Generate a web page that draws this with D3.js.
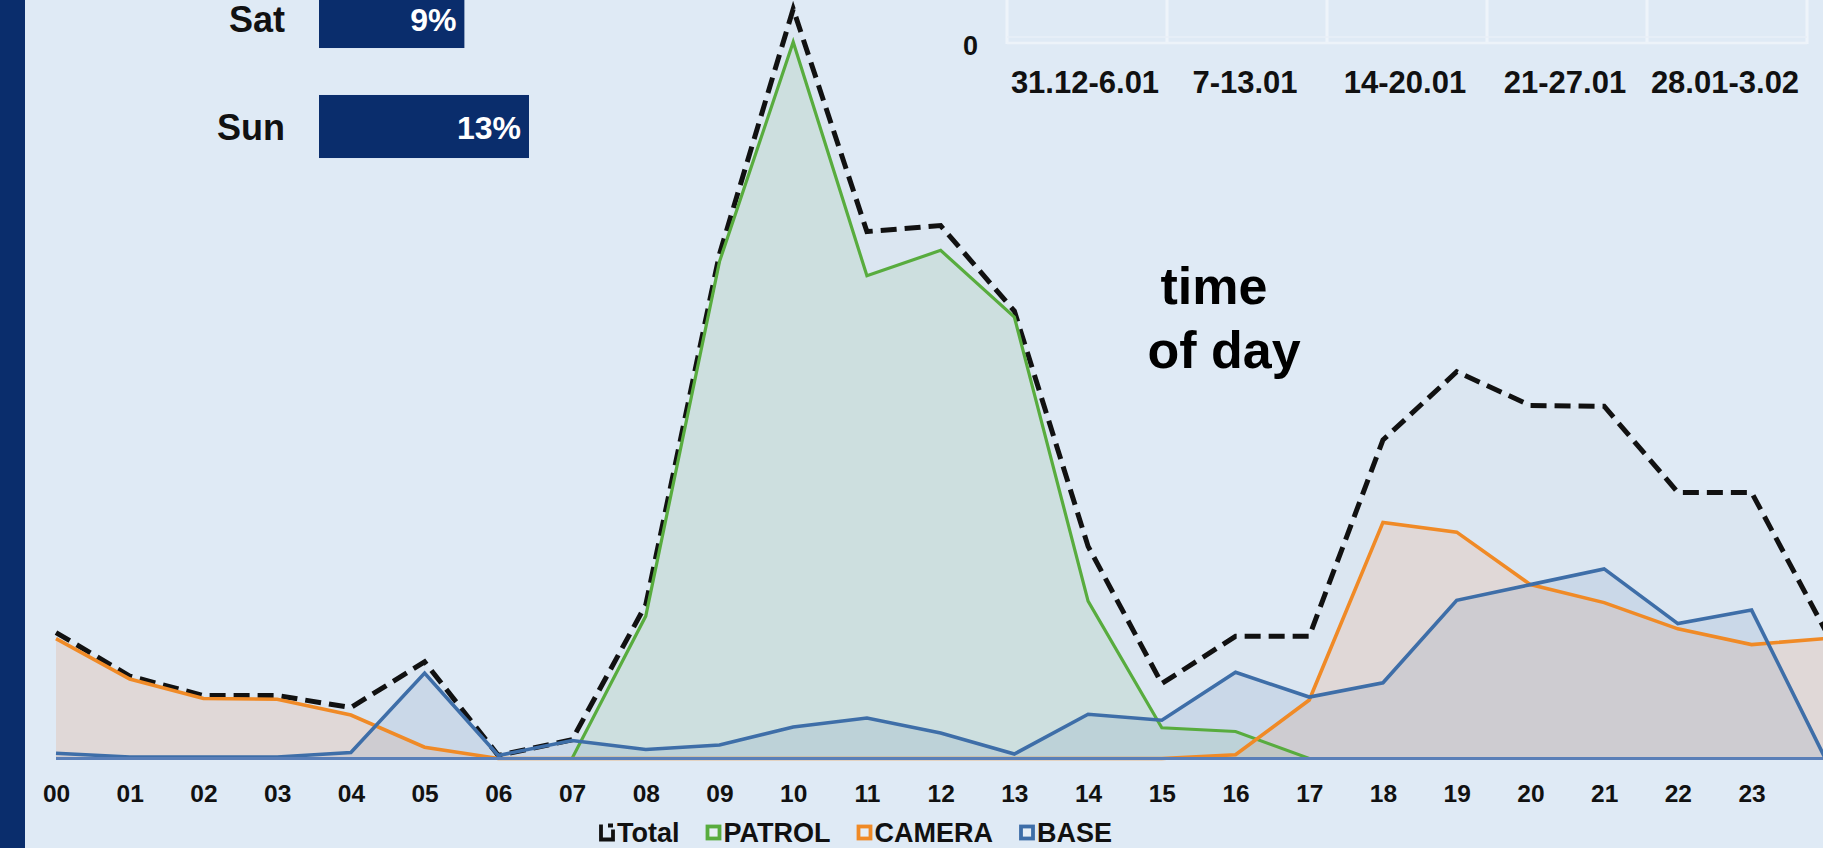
<!DOCTYPE html>
<html>
<head>
<meta charset="utf-8">
<script src="https://cdn.jsdelivr.net/npm/d3@7"></script>
<style>
  html, body { margin: 0; padding: 0; background: #dfeaf5; overflow: hidden; }
  svg { display: block; }
  text { font-family: "Liberation Sans", Arial, Helvetica, sans-serif; font-weight: bold; }
</style>
</head>
<body>
<svg id="chart" width="1823" height="848"></svg>
<script>
// ---- data ---------------------------------------------------------------
// hourly call volume (index 24 = midnight of the following day)
const hourTicks = ["00","01","02","03","04","05","06","07","08","09","10","11",
                   "12","13","14","15","16","17","18","19","20","21","22","23"];
const totalCalls  = [16.8, 11.0, 8.4, 8.4, 6.8, 12.9, 0.4, 2.5, 20.5, 67.3, 100, 70.3,
                     71.1, 59.7, 28.3, 10.0, 16.3, 16.3, 42.5, 51.6, 47.1, 47.0, 35.5, 35.5, 17.1];
const patrolCalls = [0, 0, 0, 0, 0, 0, 0, 0, 19.0, 66.3, 95.6, 64.4,
                     67.8, 58.9, 21.0, 4.1, 3.6, 0, 0, 0, 0, 0, 0, 0, 0];
const cameraCalls = [16.0, 10.6, 8.0, 7.9, 5.8, 1.5, 0, 0, 0, 0, 0, 0,
                     0, 0, 0, 0, 0.5, 7.8, 31.5, 30.2, 23.2, 20.8, 17.3, 15.2, 16.0];
const baseCalls   = [0.7, 0.2, 0.2, 0.2, 0.8, 11.4, 0.4, 2.4, 1.2, 1.8, 4.2, 5.4,
                     3.4, 0.6, 5.9, 5.1, 11.5, 8.2, 10.1, 21.1, 23.2, 25.3, 18.0, 19.8, 0];
const legendNames = ["Total", "PATROL", "CAMERA", "BASE"];

// share of calls by weekday (weekend rows)
const weekendDays  = ["Sat", "Sun"];
const weekendShare = [9, 13];

// weekly panel
const weekLabels = ["31.12-6.01", "7-13.01", "14-20.01", "21-27.01", "28.01-3.02"];
const weekTicks  = [0];

const titleLines = ["time", "of day"];

// ---- styling ------------------------------------------------------------
const navy = "#0a2d6c";
const colors = { Total: "#111111", PATROL: "#58ac3e", CAMERA: "#f08a26", BASE: "#3e6ea8" };
const fills  = { Total: "rgba(40,50,70,0.018)", PATROL: "rgba(95,170,80,0.11)",
                 CAMERA: "rgba(250,150,90,0.17)", BASE: "rgba(62,110,168,0.11)" };

const svg = d3.select("#chart");

// left accent strip
svg.append("rect").attr("x", 0).attr("y", 0).attr("width", 25).attr("height", 848).attr("fill", navy);

// ---- weekday bars -------------------------------------------------------
const dayY = d3.scaleBand().domain(weekendDays).range([-38.5, 181.5]).paddingInner(0.427).paddingOuter(0.2135);
const dayX = d3.scaleLinear().domain([0, d3.max(weekendShare)]).range([319, 529]);
const dayG = svg.append("g");
weekendDays.forEach((d, i) => {
  const yc = dayY(d) + dayY.bandwidth() / 2;
  const off = i === 0 ? 15 : 13;
  dayG.append("rect")
    .attr("x", dayX(0)).attr("y", dayY(d))
    .attr("width", dayX(weekendShare[i]) - dayX(0)).attr("height", dayY.bandwidth())
    .attr("fill", navy);
  dayG.append("text").attr("x", 285).attr("y", yc + off)
    .attr("text-anchor", "end").attr("font-size", 36).attr("fill", "#111").text(d);
  dayG.append("text").attr("x", dayX(weekendShare[i]) - 8).attr("y", yc + off - 1)
    .attr("text-anchor", "end").attr("font-size", 32).attr("fill", "#fff").text(weekendShare[i] + "%");
});

// ---- weekly panel (bottom edge) -----------------------------------------
const weekX = d3.scaleBand().domain(weekLabels).range([1007, 1807]);
const weekY = d3.scaleLinear().domain([0, 1]).range([43, -400]);
const weekG = svg.append("g");
weekG.selectAll("line.v").data(weekLabels.concat([null])).join("line")
  .attr("class", "v")
  .attr("x1", (d, i) => 1007 + i * weekX.step()).attr("x2", (d, i) => 1007 + i * weekX.step())
  .attr("y1", 0).attr("y2", weekY(0) + 1)
  .attr("stroke", "#eef4fa").attr("stroke-width", 3);
weekG.append("line").attr("x1", 1007).attr("x2", 1807).attr("y1", weekY(0) - 6).attr("y2", weekY(0) - 6)
  .attr("stroke", "#e8eff7").attr("stroke-width", 1.5);
weekG.append("line").attr("x1", 1007).attr("x2", 1807).attr("y1", weekY(0)).attr("y2", weekY(0))
  .attr("stroke", "#edf3f9").attr("stroke-width", 2.5);
weekG.selectAll("text.tick").data(weekTicks).join("text")
  .attr("class", "tick").attr("x", 978).attr("y", d => weekY(d) + 12)
  .attr("text-anchor", "end").attr("font-size", 27).attr("fill", "#111").text(d => d);
weekG.selectAll("text.week").data(weekLabels).join("text")
  .attr("class", "week").attr("x", d => weekX(d) + weekX.bandwidth() / 2 - 2).attr("y", 93)
  .attr("text-anchor", "middle").attr("font-size", 31).attr("fill", "#111").text(d => d);

// ---- hourly chart -------------------------------------------------------
const x = d3.scaleLinear().domain([0, 24]).range([56, 1825.3]);
const y = d3.scaleLinear().domain([0, 100]).range([758.5, 9]);

const series = [
  { name: "Total",  values: totalCalls },
  { name: "CAMERA", values: cameraCalls },
  { name: "PATROL", values: patrolCalls },
  { name: "BASE",   values: baseCalls }
];

const area = d3.area().x((d, i) => x(i)).y0(y(0)).y1(d => y(d));
const line = d3.line().x((d, i) => x(i)).y(d => y(d));

const plot = svg.append("g");
series.forEach(s => {
  plot.append("path").attr("d", area(s.values)).attr("fill", fills[s.name]);
});

// total as dashed outline
plot.append("path").attr("d", line(totalCalls))
  .attr("fill", "none").attr("stroke", colors.Total)
  .attr("stroke-width", 5).attr("stroke-dasharray", "16,8");

[["PATROL", patrolCalls, 3.2], ["CAMERA", cameraCalls, 3.6], ["BASE", baseCalls, 3.6]].forEach(([n, v, w]) => {
  plot.append("path").attr("d", line(v))
    .attr("fill", "none").attr("stroke", colors[n]).attr("stroke-width", w)
    .attr("stroke-linejoin", "miter");
});

// baseline
plot.append("line").attr("x1", x(0)).attr("x2", 1823).attr("y1", y(0)).attr("y2", y(0))
  .attr("stroke", "#5a7fb8").attr("stroke-width", 3);

// hour labels
const xAxis = d3.axisBottom(x).tickValues(d3.range(hourTicks.length))
  .tickFormat(i => hourTicks[i]).tickSize(0).tickPadding(0);
const axG = svg.append("g").call(xAxis);
axG.select(".domain").remove();
axG.selectAll("text").attr("y", 802).attr("dy", null)
  .attr("font-size", 24.5).attr("fill", "#111")
  .style("font-family", '"Liberation Sans", Arial, sans-serif').style("font-weight", "bold");

// ---- legend -------------------------------------------------------------
const legG = svg.append("g");
let lx = 599;
const ly = 832.5;
legendNames.forEach(n => {
  if (n === "Total") {
    legG.append("path")
      .attr("d", `M${lx + 2},${ly - 8} V${ly + 7} H${lx + 14} V${ly - 3} M${lx + 9},${ly - 7} H${lx + 14}`)
      .attr("fill", "none").attr("stroke", "#111").attr("stroke-width", 3.8);
  } else {
    legG.append("rect").attr("x", lx + 2).attr("y", ly - 6).attr("width", 12).attr("height", 12)
      .attr("fill", "#e6eef6").attr("stroke", colors[n]).attr("stroke-width", 3.8);
  }
  const t = legG.append("text").attr("x", lx + 18).attr("y", ly + 9)
    .attr("font-size", 27).attr("fill", "#111").text(n);
  lx += 18 + t.node().getComputedTextLength() + 26;
});

// ---- section caption ----------------------------------------------------
const cap = svg.append("g").attr("font-size", 52).attr("fill", "#000").attr("text-anchor", "middle");
cap.append("text").attr("x", 1214).attr("y", 304).text(titleLines[0]);
cap.append("text").attr("x", 1224).attr("y", 368).text(titleLines[1]);
</script>
</body>
</html>
